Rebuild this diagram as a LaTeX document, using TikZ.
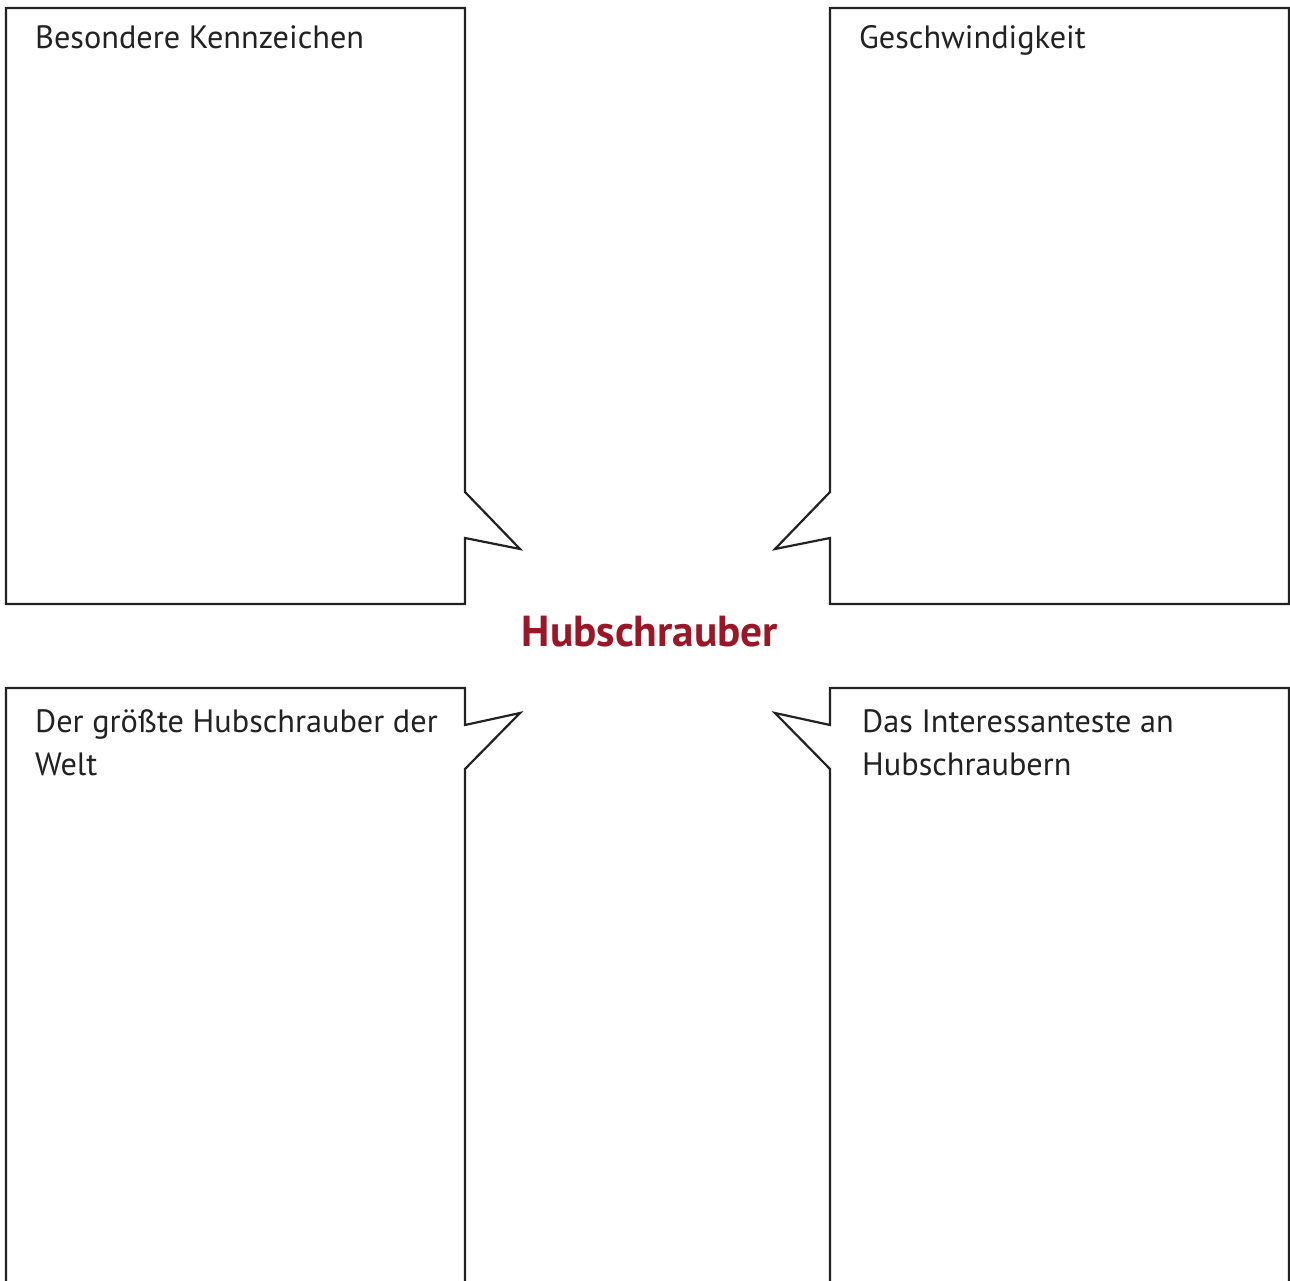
\documentclass[tikz,border=0pt]{standalone}
\usepackage{fontspec}
\setmainfont{PT Sans}
\usepackage{tikz}
\usetikzlibrary{positioning}
\definecolor{titlered}{RGB}{155,22,38}
\definecolor{inkgray}{RGB}{34,34,34}
\begin{document}
\begin{tikzpicture}[line cap=round,line join=miter,x=1pt,y=-1pt,
    bubble/.style={color=inkgray,line width=2.2pt},
    label/.style={anchor=base west,inner sep=0pt,align=left,text=inkgray,
      font=\fontsize{32.3}{42.5}\selectfont}]
      \useasboundingbox (0,0) rectangle (1290,1281);
      \draw[bubble] (6,8) -- (465,8) -- (465,492) -- (520,549) -- (465,538) -- (465,604) -- (6,604) -- cycle;
      \draw[bubble] (830,8) -- (1289,8) -- (1289,604) -- (830,604) -- (830,538) -- (775,549) -- (830,492) -- cycle;
      \draw[bubble] (6,1300) -- (6,688) -- (465,688) -- (465,725) -- (520,713) -- (465,769) -- (465,1300);
      \draw[bubble] (1289,1300) -- (1289,688) -- (830,688) -- (830,725) -- (775,713) -- (830,769) -- (830,1300);
      \node[label] (kennz) at (35,49) {Besondere Kennzeichen};
      \node[label] (tempo) at (859,49) {Geschwindigkeit};
      \node[label] (groesste) at (35,775) {Der größte Hubschrauber der\\Welt};
      \node[label] (interesse) at (862,775) {Das Interessanteste an\\Hubschraubern};
      \node[anchor=base,inner sep=0pt,text=titlered,font=\fontsize{43.4}{50}\selectfont\bfseries] (titel) at (650,646) {Hubschrauber};
    \end{tikzpicture}
\end{document}
